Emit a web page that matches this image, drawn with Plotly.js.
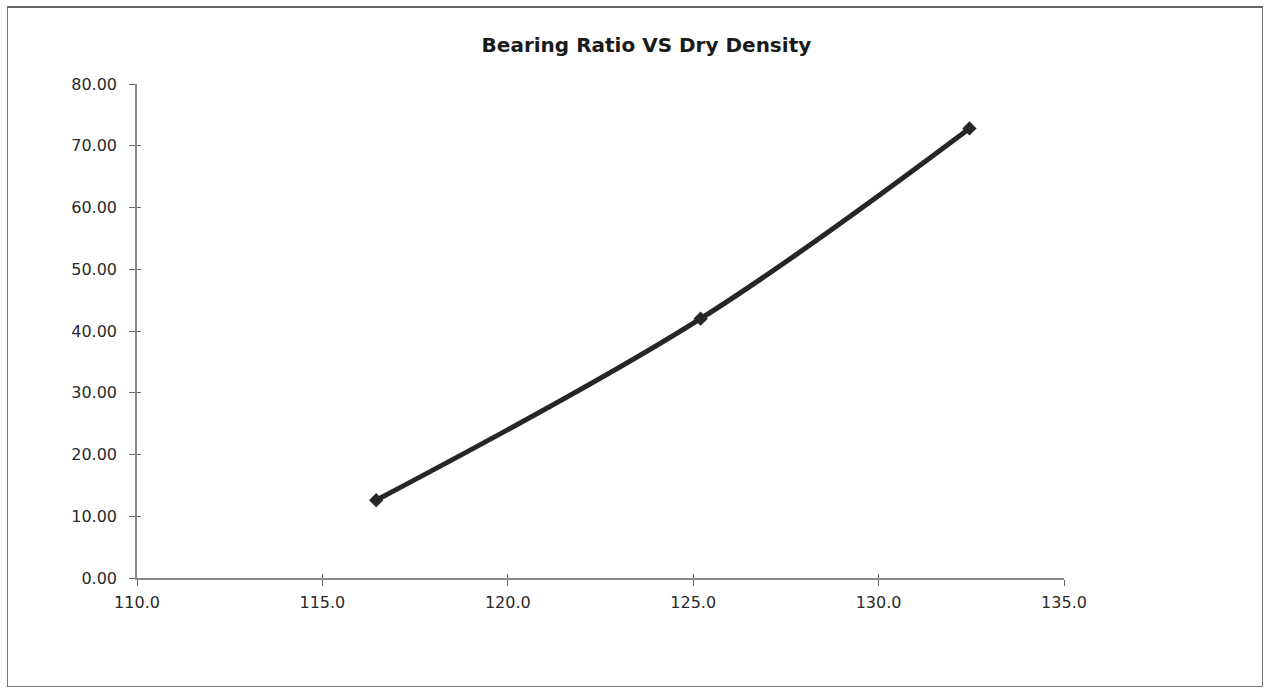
<!DOCTYPE html>
<html>
<head>
<meta charset="utf-8">
<script src="https://cdn.plot.ly/plotly-3.0.1.min.js"></script>
<style>
html,body{margin:0;padding:0;background:#fff;}
#wrap{position:relative;width:1265px;height:688px;}
#frame{position:absolute;left:7px;top:6px;right:2px;bottom:1px;border:1.5px solid #777;border-top:2.5px solid #666;pointer-events:none;z-index:5;}
#chart{width:1265px;height:688px;}
</style>
</head>
<body>
<div id="wrap"><div id="chart"></div><div id="frame"></div></div>
<script>
const dryDensity = [116.45, 125.2, 132.45];
const bearingRatio = [12.6, 42.0, 72.8];
const xTicks = [110, 115, 120, 125, 130, 135];
const yTicks = [0, 10, 20, 30, 40, 50, 60, 70, 80];

const fontFam = 'DejaVu Sans, Liberation Sans, Arial, sans-serif';
const axisCommon = {
  showgrid: false, zeroline: false, showline: true,
  linecolor: '#888', linewidth: 1.5,
  ticks: 'outside', ticklen: 6, tickwidth: 1.2, tickcolor: '#666',
  tickfont: {family: fontFam, size: 16, color: '#2a2a2a'}
};

const data = [{
  x: dryDensity, y: bearingRatio,
  type: 'scatter', mode: 'lines+markers',
  line: {color: '#262626', width: 5, shape: 'spline', smoothing: 1},
  marker: {symbol: 'diamond', size: 11, color: '#262626'},
  hoverinfo: 'x+y'
}];

const layout = {
  width: 1265, height: 688,
  margin: {l: 137, r: 201, t: 84, b: 110},
  paper_bgcolor: '#fff', plot_bgcolor: '#fff',
  showlegend: false,
  title: {text: '<b>Bearing Ratio VS Dry Density</b>', x: 0.511, xref: 'container', y: 0.935, yanchor: 'middle',
    font: {family: fontFam, size: 20, color: '#1a1a1a'}},
  xaxis: Object.assign({}, axisCommon, {
    range: [110, 135], tickvals: xTicks, ticktext: xTicks.map(v => v.toFixed(1)), ticklabelstandoff: 3
  }),
  yaxis: Object.assign({}, axisCommon, {
    range: [0, 80], tickvals: yTicks, ticktext: yTicks.map(v => v.toFixed(2)), ticklabelstandoff: 9
  }),
  xaxis2: {overlaying: 'x', range: [110, 135], tickvals: xTicks, showticklabels: false, ticks: 'inside', ticklen: 4,
    tickwidth: 1.2, tickcolor: '#666', showgrid: false, zeroline: false, showline: false, side: 'bottom'},
  yaxis2: {overlaying: 'y', range: [0, 80], tickvals: yTicks, showticklabels: false, ticks: 'inside', ticklen: 4,
    tickwidth: 1.2, tickcolor: '#666', showgrid: false, zeroline: false, showline: false, side: 'left'}
};

const dummy = {x: [null], y: [null], xaxis: 'x2', yaxis: 'y2', type: 'scatter', mode: 'markers', hoverinfo: 'skip', showlegend: false};
Plotly.newPlot('chart', [dummy].concat(data), layout, {displayModeBar: false});
</script>
</body>
</html>
